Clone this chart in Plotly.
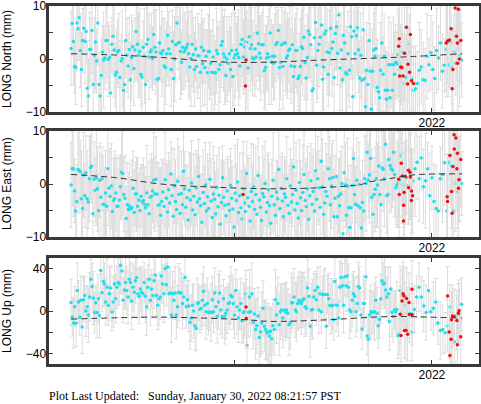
import numpy as np
import plotly.graph_objects as go

# ---------------- data ----------------
T_START = 2020.175
T_SPLIT = 2021.835
T_END = 2022.152

NORTH_A = [2.0, 6.7, 3.3, -1.4, -1.6, 6.8, 5.7, 7.8, 1.6, -2.0, 3.5, 5.8, 3.3, 5.2, -5.5, -7.0, 1.8, 1.8, 5.4, -4.8,
           0.7, 3.2, -0.4, 6.8, -4.8, -7.0, -3.1, 1.3, -0.2, 0.2, 3.5, 3.5, -0.1, 0.3, -6.4, 2.8, 4.3, 1.7, -3.0, -2.5,
           1.3, 1.6, -3.5, -0.4, 0.1, -5.9, -4.8, 3.5, 0.7, -1.3, 1.8, -3.9, 0.3, 2.3, -1.8, 1.7, 5.2, 2.8, 0.7, 1.4,
           -2.9, -3.4, 2.2, 0.5, -4.8, 2.8, 3.7, 0.4, 1.3, 1.7, 0.1, 4.6, 2.2, 1.3, -3.8,
           -3.7, 3.0, 1.2, 1.0, 1.6, -1.3, -1.6, 1.0, 4.5, 1.9, 1.0, -2.0, 3.3, -3.7, 0.0, 2.7, 6.8, 3.0, 3.1, 1.4,
           -0.6, 2.2, 1.3, 1.8, 2.2, 2.8, 1.0, -1.5, 0.1, 2.8, 0.8, -2.0, 1.9, -1.4, 0.6, 0.6, -2.5, 2.2, -0.9, 1.6,
           -1.6, 0.5, -2.6, 1.4, 1.4, -0.8, -2.5, 0.4, -2.6, -2.6, 1.6, 1.0, -2.0, -1.1, 2.6, 3.3, 1.0, 0.4, -3.1, 0.0,
           -0.8, 1.0, -2.0, 1.6, -3.3, 0.2, 0.8, 1.7, 1.0, 0.3, -1.3, 2.8, 3.7, 0.4, 2.3, 3.2, 3.1, -1.7, 4.2, 2.0,
           2.7, 0.2, 0.0, 1.9, 0.4, 4.9, 2.9, 1.1, 0.2, 2.7, 2.7, -2.2, -1.6, 0.2, 1.0, 0.4, 4.9, -0.6, 0.5, -0.8,
           0.5, 2.7, 3.1, 5.4, -1.6, -0.6, 2.7, -1.4, 3.0, 3.0, 0.2, 0.6, 1.6, 1.9, -1.3, 2.7, -3.3, -1.4, 1.6, 1.6,
           -3.7, -3.2, -1.4, 2.3, 2.0, 4.1, -0.7, -3.6, 0.3, 5.3, 4.6, 2.7, -6.0, -5.6, 4.0,
           6.9, -1.2, 1.6, 2.8, 4.1, 6.4, -3.8, -1.5, 4.7, 5.3, 1.3, -2.9, 1.2, 5.8, 2.0, 3.2, -3.5, 4.8, 6.1, 1.1,
           8.3, -1.7, 1.7, -3.9, 4.5, 3.0, -2.6, -2.9, 1.0, -2.1, 6.1, 4.2, -7.1, 5.3, 1.0, 4.4, 5.9, 1.7, -3.6, 0.7,
           -4.0, 5.5, -3.7, -9.0, -2.1, -4.8, 3.5, -2.3, -9.5, -2.3, 1.7, 0.5, 2.0, -5.4, -6.2, -7.3, -2.1, 3.0, -2.9, 0.5,
           -5.9, -7.6, -5.9, -1.1, -7.3, -1.1, -5.9, -1.1, -2.9, -0.6, -0.9, 0.8, -2.0]
NORTH_B = [-0.9, 1.3, -4.6, -3.5, 2.8, 1.3, -3.7, -5.9, -5.6, -4.6, -2.1, -1.5, -3.9, -4.0, 0.5, -1.1, 1.2, -2.0,
           -3.7, 1.6, 0.2, 3.0, -2.3, -1.2, 1.8, -1.1, 3.1, -1.5, 1.3, -0.8, 2.8, 0.7, -0.2]

EAST_A = [-0.2, 2.9, 2.9, -1.3, -5.1, -3.3, 2.7, 2.6, 2.3, -2.8, -4.6, 1.7, -2.2, 2.1, -2.8, -3.4, 1.0, 3.1, 3.4, -5.6,
          0.9, -1.2, 1.2, -0.9, -5.0, 0.7, -2.5, 1.0, -3.8, -3.9, -1.7, -4.2, 2.9, -0.8, -2.3, -0.4, -5.2, -3.1, -2.8, -1.7,
          -4.2, -4.2, -3.0, -0.5, 2.2, 2.0, -2.0, -2.7, -6.5, -3.9, -4.8, -4.2, -4.7, -4.5, -0.8, -5.4, -1.9, -1.9, -4.2, -3.0,
          -5.0, -2.3, -3.4, -3.1, -3.8, -4.5, -1.7, -3.9, -5.6, -2.5, -2.3, -1.3, 0.7, -1.9, 0.9, -1.9, -4.0, -3.9, -5.9, -3.3,
          -1.5, -4.2, 0.8, -2.7, -5.3, -1.1, -3.6, 1.9, -2.2, -6.1, -0.4, -3.3, -4.8, 0.5, -2.0, -5.5, -1.8, -3.9, 2.4, -0.9,
          -4.4, -2.6, -6.8, -1.2, -3.0, 0.2, -4.9, -2.3, -5.8, -0.7, -3.4, 1.4, -2.8, -4.1, -7.2, -1.6, -3.7, -0.2, -5.1, -2.4,
          -4.6, 0.9, -3.2, -6.3, -1.9, -2.9, -5.6, -0.6, -4.3, -2.1, -7.6, -3.5, 1.2, -2.5, -4.0, -6.0, -1.3, -3.8, -5.0, -0.3,
          -2.7, -4.7, -8.1, -1.7, -3.1, 0.4, -5.4, -2.2, -4.5, -6.6, -1.0, -3.6, -5.2, 2.0, -2.6, -4.2, -7.0, -1.4, -3.3, -0.5,
          -4.8, -2.0, -5.7, 1.6, -3.0, -4.4, -6.9, -1.8, -2.4, 0.1, -5.3, -3.5, -1.1, -4.1, -7.4, -2.3, 0.7, -3.9, -5.9, -1.5,
          -2.8, 2.8, -4.6, -0.8, -3.2, -6.2, -1.9, -2.5, 1.0, -4.0, -5.5, -0.4, -3.4, -2.0, 3.2, -4.9, -1.2, -3.7, -6.4, 0.3,
          -2.6, -5.0, -1.6, 1.8, -3.1, -4.3, -0.9, -6.7, -2.2, 0.6, -3.8, -1.4, -5.1, 2.5, -2.9,
          1.0, -0.7, -4.4, 4.3, -0.5, -5.7, -3.6, -1.4, -2.3, 2.9, 1.0, -3.9, -0.4, 1.2, -6.2, -2.7, 1.4, -6.2, -2.3, -4.1,
          -1.9, 0.1, -9.4, 2.1, -0.2, -5.9, -0.4, -4.5, -8.2, -4.5, -0.3, 4.8, -2.0, -3.8, 0.7, -4.1, -0.1, -4.5, -8.3, -3.5,
          -5.1, 1.0, 0.1, 6.0, 0.7, 1.7, 4.8, -2.5, -5.7, -2.0, -1.0, 1.0, -0.2, 3.4, -2.0, -3.9, 3.0, 2.8, 1.0, 7.5,
          -2.2, -2.0, 4.6, 3.5, 2.9, 2.6, 6.0, 1.8, -0.7, -0.2, 0.2, 0.7]
EAST_B = [5.4, -0.1, -0.2, 1.2, -0.3, 1.7, 0.6, 2.9, 4.1, 1.0, 4.9, -0.5, 0.6, 2.9, -2.2, 1.2, -3.3, -4.6, -5.1, 1.0,
          1.8, 4.0, -5.1, 4.1, 3.5, -5.1, 0.1, -1.4, 1.0, 0.1]

UP_A = [8.0, -5.8, -11.3, 4.0, -11.6, 19.3, 8.6, -5.8, 10.1, -15.0, 10.7, 14.7, 0.0, 4.0, -3.7, 13.2, 30.0, 23.0, 12.3, -1.5,
        7.7, -1.5, 11.6, -4.3, 38.3, 17.2, 27.9, 25.4, 8.6, 22.4, 5.5, 16.2, 21.8, -0.9, 8.6, 25.4, 11.6, 22.4, 27.0, 25.4,
        43.2, 37.7, 10.1, 19.9, 27.0, 19.3, 13.2, 30.0, 27.0, 9.5, 22.4, 17.8, 28.5, 31.6, 16.2, 13.8, 20.8, 17.8, 16.2, 27.0,
        13.8, 4.0, 22.4, 30.0, 10.1, 20.8, 14.7, 28.5, 34.0, 14.7, 5.5, 11.6, 13.2, 33.1, 25.4, 16.2, 40.2, 24.8,
        41.4, 16.2, 16.9, -3.7, 16.2, 10.1, 16.9, -3.7, 4.0, 17.8, 16.9, 16.9, 7.0, 13.2, 31.6, 4.0, 10.7, 4.6, -10.7, -6.7,
        5.5, 0.0, -13.8, -16.6, 7.0, 7.7, 1.5, 2.5, 10.1, 18.7, 5.5, -0.6, 7.0, -1.5, -0.6, -1.5, 10.7, -0.6, 16.9, 4.0,
        -5.2, 8.6, 16.9, 0.9, -5.2, 11.6, -5.2, -2.1, 0.9, 7.0, 7.7, 14.7, 13.2, 7.0, -3.7, 19.3, 4.0, -6.7, 0.9, 7.0,
        -9.2, -1.5, -0.6, 16.2, -32.2, -1.2, 13.2, -0.6, 16.2, -10.7, -2.8, -17.5, -13.8, -4.6, -25.1, -19.9, -11.3, 2.5, -14.4, -17.5,
        -20.5, -19.9, -23.6, -19.0, -26.1, -13.8, -17.5, 10.7, -3.7, 7.0, -12.9, -0.6, 0.9, -6.7, 0.9, -0.6, 0.9, -2.1, -12.9, -10.7,
        7.7, 7.7, 13.2, 0.9, -0.6, 7.0, 10.1, 8.6, 7.0, 10.1, 11.6, 4.0, 2.5, 21.8, 13.8, -14.4, 0.9, 1.5, 13.2, 19.3,
        10.7, 22.4, 0.9,
        16.2, -0.6, 15.6, 15.6, 15.6, -14.4, 15.6, 11.6, 5.5, 4.6, 5.5, -8.3, 27.9, 5.5, 5.5, -6.7, 22.4, 31.6, 23.9, 5.5,
        32.2, 23.9, 33.1, 22.4, 0.9, -0.6, 10.1, 16.2, 13.8, -0.6, 7.0, 23.0, 21.8, -3.7, -16.9, 7.0, 7.0, 32.2, -23.6, -26.7,
        -3.7, -0.6, -1.5, -0.6, -0.6, 10.1, -2.1, -13.8, -7.7, 11.6, 28.5, 25.4, 26.1, 19.9, 13.2, 16.2, -9.8, 20.8, -1.5, -5.2,
        0.9, -0.6, 1.5, -23.0, -22.1]
UP_B = [19.3, 14.7, 5.5, -2.1, -2.1, -19.9, 1.5, 13.2, 22.4, 13.2, 4.6, -1.5, 19.3, -0.6, 2.5, 8.6, -11.3, -18.4,
        -17.5, -20.5, -13.8, 4.0, -27.3, -29.1, -3.7, -3.7, 6.4]

# rapid (red) solutions: epochs and values
RED_T_N = [2021.057, 2021.060, 2021.832, 2021.835, 2021.837, 2021.842, 2021.847, 2021.854, 2021.861, 2021.871,
           2021.877, 2021.879, 2021.887, 2021.891, 2021.897, 2021.907, 2022.072, 2022.079, 2022.089, 2022.097,
           2022.102, 2022.106, 2022.117, 2022.124, 2022.129, 2022.130, 2022.134, 2022.139, 2022.146]
RED_N = [-5.1, -0.2, 2.4, 3.8, -3.2, -1.5, -1.6, -3.2, 1.1, 6.0,
         -4.7, -1.0, -2.5, 4.6, -4.1, -4.6, 3.0, 3.4, 3.6, 5.7,
         -5.6, -2.0, 9.6, 4.3, 3.0, -0.8, 9.4, 0.0, 3.5]
RED_T_E = [2021.045, 2021.832, 2021.835, 2021.845, 2021.850, 2021.856, 2021.857, 2021.859, 2021.866, 2021.881,
           2021.882, 2021.889, 2021.891, 2021.896, 2021.897, 2021.902, 2022.077, 2022.079, 2022.091, 2022.099,
           2022.102, 2022.106, 2022.112, 2022.113, 2022.121, 2022.126, 2022.129, 2022.134, 2022.137, 2022.146]
RED_E = [-2.0, 0.9, -2.0, 3.9, 1.5, -7.0, -4.0, -1.6, 1.4, 2.6,
         -0.7, 2.2, 1.3, -3.1, -1.3, -2.2, -2.4, -3.3, 5.4, -1.4,
         -5.5, 3.3, 9.3, 6.6, 8.7, 2.9, 5.8, -0.8, 0.8, 4.6]
RED_T_U = [2021.060, 2021.062, 2021.840, 2021.844, 2021.849, 2021.854, 2021.859, 2021.861, 2021.869, 2021.872,
           2021.877, 2021.884, 2021.886, 2021.899, 2021.900, 2022.079, 2022.087, 2022.091, 2022.097, 2022.099,
           2022.104, 2022.112, 2022.126, 2022.129, 2022.134, 2022.137, 2022.146]
RED_U = [3.7, -7.1, -3.1, -23.0, 9.5, 16.3, 14.1, -18.4, -18.4, 11.7,
         -22.0, 8.0, -3.4, 20.5, -3.4, 14.1, -19.9, -42.0, -26.7, -8.3,
         -4.6, -5.2, -8.9, -31.9, -2.1, 0.3, -24.2]

# model trend (dashed)
TREND_T_N = [2020.175, 2020.40, 2020.628, 2020.93, 2021.18, 2021.434, 2021.836, 2022.153]
TREND_N = [1.0, 0.75, 0.3, -0.55, -0.6, -0.2, 0.35, 1.0]
TREND_T_E = [2020.175, 2020.40, 2020.628, 2020.90, 2021.18, 2021.434, 2021.64, 2021.685, 2021.77, 2021.846, 2021.936, 2022.153]
TREND_E = [1.8, 1.2, 0.0, -0.6, -0.9, -0.7, -0.1, 0.4, 0.9, 1.4, 1.8, 1.9]
TREND_T_U = [2020.175, 2020.628, 2021.06, 2021.18, 2021.434, 2021.79, 2021.99, 2022.153]
TREND_U = [-7.7, -5.8, -8.3, -9.8, -8.6, -5.2, -5.8, -6.7]

# 1-sigma uncertainties (mm), one digit per point
N_ERR = ("76857968776586977685796867759687768579686775968776"
         "67857697886759678857697867758697687576987657968775"
         "78698776586978675879687768597867958678769857968778"
         "86978775968778697867958678769877869786879897868979"
         "87989878698798789879868798978698789789879869879878"
         "88979879887989789878897988798")
N_RED_ERR = "89789878998789879898789879898"
E_ERR = ("87968778697867958678769877869786879868979786987868"
         "78697867958678769877869786879868979786987868978697"
         "86879868979786987868978697867958678769877869786879"
         "97868979786987868978697867958678769877869786879868"
         "78987989879878987989879878987989879878987989879878"
         "98798789879898789879878987989879878")
E_RED_ERR = "898798789879898789879878987989"
U_ERR = ("2218241922262017232521182420262319222519172423212618"
         "2420222719252118242623202219262221182423252019272224"
         "2118232620242219252721232418202622192325212418272220"
         "2319242621182522202723192421262018242522192623212417"
         "2220252319262421182722202419252621232018262422192527"
         "2124222026231924212825222724262329252428262725232926"
         "2428252726232925242827252926242825272623292528242726"
         "2825272429262528242726292528")
U_RED_ERR = "262827252930282627292528262729282526282729262827282926"


def digits(s):
    return np.array([int(c) for c in s], dtype=float)


def pairs(s):
    return np.array([int(s[i:i + 2]) for i in range(0, len(s) - 1, 2)], dtype=float)


def fit(arr, n):
    return np.resize(arr, n)


# ---------------- figure ----------------
W, H = 481, 404
XL, XR = 48.5, 479.0
PANELS = [(6, 112), (131, 237), (258, 364)]
CYAN = "#1fe0ee"
RED = "#ee1111"
BAR = "#dcdcdc"
FRAME = "#383838"

series = [
    ("LONG North (mm)", NORTH_A, NORTH_B, digits(N_ERR), RED_T_N, RED_N, digits(N_RED_ERR),
     TREND_T_N, TREND_N, [-10, 10], [-10, -5, 0, 5, 10], ["\u221210", "", "0", "", "10"]),
    ("LONG East (mm)", EAST_A, EAST_B, digits(E_ERR), RED_T_E, RED_E, digits(E_RED_ERR),
     TREND_T_E, TREND_E, [-10, 10], [-10, -5, 0, 5, 10], ["\u221210", "", "0", "", "10"]),
    ("LONG Up (mm)", UP_A, UP_B, pairs(U_ERR), RED_T_U, RED_U, pairs(U_RED_ERR),
     TREND_T_U, TREND_U, [-50, 50], [-40, -20, 0, 20, 40], ["\u221240", "", "0", "", "40"]),
]

fig = go.Figure()
layout = dict(width=W, height=H, margin=dict(l=0, r=0, t=0, b=0, pad=0),
              paper_bgcolor="white", plot_bgcolor="white", showlegend=False,
              font=dict(family="Liberation Sans, Arial, sans-serif", size=12, color="black"))
annotations = []

for k, (title, ya, yb, err, rt, rv, rerr, tt, tv, yr, ytv, ytt) in enumerate(series):
    sfx = "" if k == 0 else str(k + 1)
    xref, yref = "x" + sfx, "y" + sfx
    ta = np.linspace(T_START, T_SPLIT, len(ya))
    tb = np.linspace(T_SPLIT + 0.004, T_END - 0.002, len(yb))
    t = np.concatenate([ta, tb])
    y = np.array(ya + yb, dtype=float)
    e = fit(err, len(y))
    fig.add_trace(go.Scatter(x=t, y=y, mode="markers", xaxis=xref, yaxis=yref,
                             marker=dict(color=CYAN, size=3.5, line=dict(width=0)),
                             error_y=dict(type="data", array=e, visible=True, color=BAR,
                                          thickness=1, width=2), hoverinfo="skip"))
    fig.add_trace(go.Scatter(x=rt, y=rv, mode="markers", xaxis=xref, yaxis=yref,
                             marker=dict(color=RED, size=3.5, line=dict(width=0)),
                             error_y=dict(type="data", array=fit(rerr, len(rv)), visible=True,
                                          color=BAR, thickness=1, width=2), hoverinfo="skip"))
    fig.add_trace(go.Scatter(x=tt, y=tv, mode="lines", xaxis=xref, yaxis=yref,
                             line=dict(color="#333333", width=1, dash="6px,4px", shape="spline"),
                             hoverinfo="skip"))
    top, bot = PANELS[k]
    dom_y = [1 - bot / H, 1 - top / H]
    common = dict(showline=True, mirror="allticks", linecolor=FRAME, linewidth=3,
                  ticks="inside", ticklen=4, tickwidth=1, tickcolor=FRAME,
                  showgrid=False, zeroline=False, fixedrange=True, automargin=False,
                  ticklabeloverflow="allow",
                  tickfont=dict(family="Liberation Sans, Arial, sans-serif", size=12, color="black"))
    layout["xaxis" + sfx] = dict(domain=[XL / W, XR / W], range=[2020.061, 2022.238],
                                 tickvals=[2021, 2022], ticktext=["", "2022"],
                                 ticklabelstandoff=-2, anchor=yref, **common)
    layout["yaxis" + sfx] = dict(domain=dom_y, range=yr, tickvals=ytv, ticktext=ytt,
                                 ticklabelstandoff=-3, anchor=xref, **common)
    annotations.append(dict(x=7 / W, y=(dom_y[0] + dom_y[1]) / 2, xref="paper", yref="paper",
                            text=title, textangle=-90, showarrow=False,
                            xanchor="center", yanchor="middle",
                            font=dict(family="Liberation Sans, Arial, sans-serif", size=12, color="black")))

annotations.append(dict(x=47 / W, y=1 - 396 / H, xref="paper", yref="paper",
                        text="Plot Last Updated:\u00a0\u00a0\u00a0Sunday, January 30, 2022 08:21:57 PST",
                        showarrow=False, xanchor="left", yanchor="middle",
                        font=dict(family="Liberation Serif, Times New Roman, serif", size=12, color="black")))
layout["annotations"] = annotations
fig.update_layout(**layout)
fig.write_html("out.html", config={"displayModeBar": False},
               post_script="document.body.style.margin='0';document.body.style.overflow='hidden';")
